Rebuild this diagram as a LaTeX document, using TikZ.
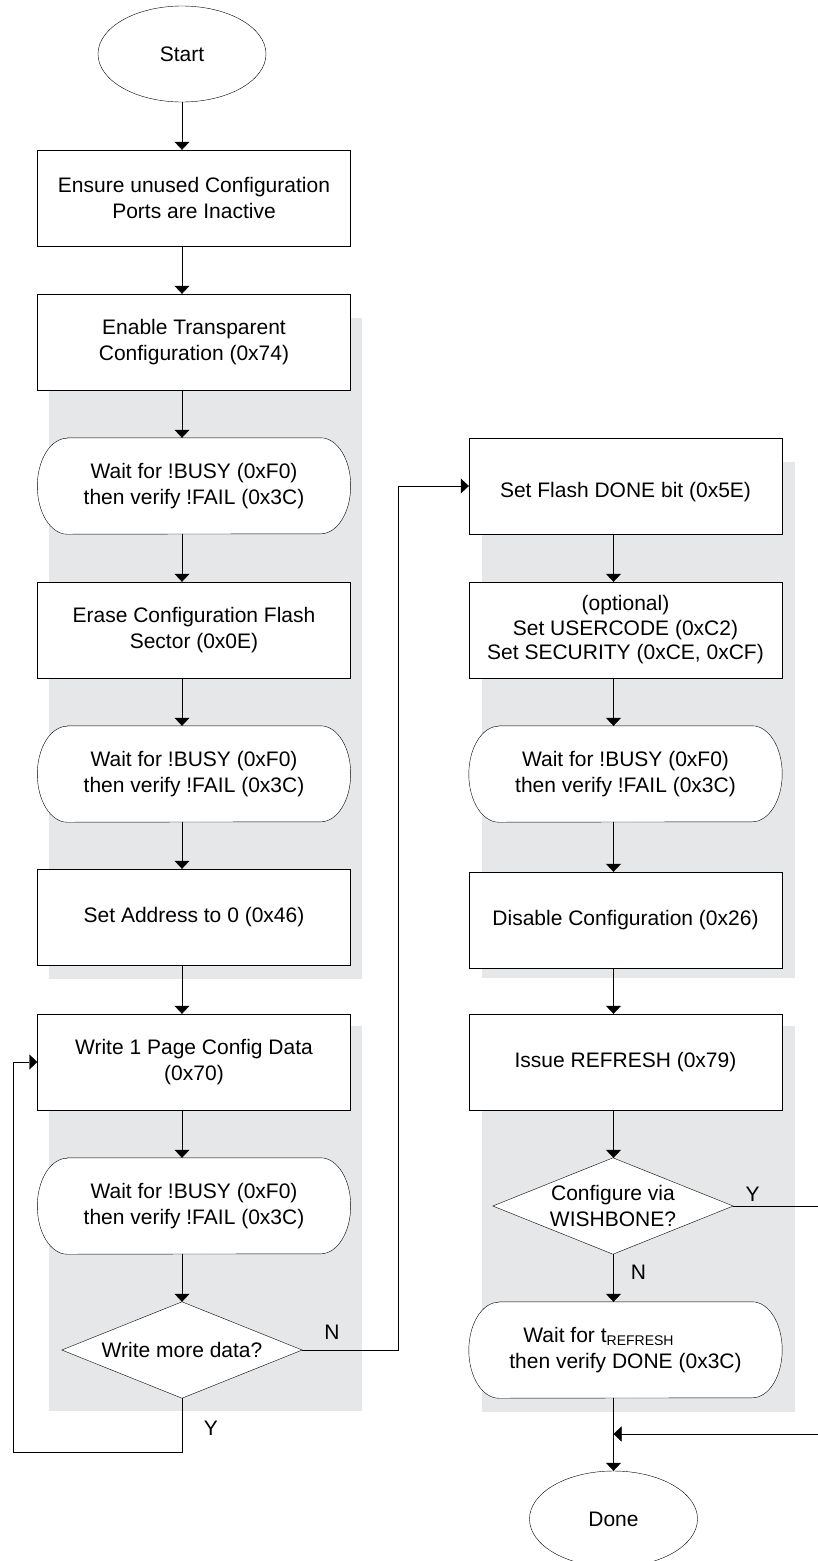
\documentclass[tikz,border=0pt]{standalone}
\usepackage{fontspec}
\setmainfont{Liberation Sans}
\usetikzlibrary{arrows.meta,shapes.geometric}
\definecolor{greyfill}{RGB}{230,231,233}
\pgfdeclarelayer{bg}
\pgfdeclarelayer{mid}
\pgfsetlayers{bg,mid,main}
\newcommand\termline[1]{%
  \draw[fill=white] ([xshift=30pt]#1.north west) -- ([xshift=-30pt]#1.north east)
    arc[start angle=90,end angle=-90,x radius=30pt,y radius=48pt]
    -- ([xshift=30pt]#1.south west)
    arc[start angle=270,end angle=90,x radius=30pt,y radius=48pt] -- cycle;}
\newcommand\decline[1]{%
  \draw[fill=white] (#1.north) -- (#1.east) -- (#1.south) -- (#1.west) -- cycle;}
\begin{document}
\begin{tikzpicture}[x=1pt,y=-1pt,
  font=\fontsize{21}{26}\selectfont,
  line width=1.4pt,
  arr/.style={-{Triangle[length=8pt,width=15pt]}},
  proc/.style={draw, rectangle, minimum width=313pt, minimum height=96pt, align=center, inner sep=0pt, fill=white},
  term/.style={rectangle, minimum width=313pt, minimum height=96pt, align=center, inner sep=0pt},
  dec/.style={rectangle, minimum width=240pt, minimum height=96pt, align=center, inner sep=0pt},
  oval/.style={draw, ellipse, minimum width=168pt, minimum height=96pt, inner sep=0pt, fill=white},
  lab/.style={inner sep=0pt}
]
\useasboundingbox (0,0) rectangle (818,1561);
\begin{pgfonlayer}{bg}
  \fill[greyfill] (49,318) rectangle (362,979);
  \fill[greyfill] (49,1026) rectangle (362,1411);
  \fill[greyfill] (482,462) rectangle (795,978);
  \fill[greyfill] (482,1026) rectangle (795,1412);
\end{pgfonlayer}

\coordinate (sL) at (182,0);
\coordinate (sR) at (613.5,0);

% left column
\node[oval] (start) at (182,54) {Start};
\node[proc] (b1) at (194,198) {Ensure unused Configuration\\Ports are Inactive};
\node[proc] (b2) at (194,342) {Enable Transparent\\Configuration (0x74)};
\node[term] (t3) at (194,486) {Wait for !BUSY (0xF0)\\then verify !FAIL (0x3C)};
\node[proc] (b4) at (194,630) {Erase Configuration Flash\\Sector (0x0E)};
\node[term] (t5) at (194,774) {Wait for !BUSY (0xF0)\\then verify !FAIL (0x3C)};
\node[proc] (b6) at (194,917) {Set Address to 0 (0x46)};
\node[proc] (b7) at (194,1062) {Write 1 Page Config Data\\(0x70)};
\node[term] (t8) at (194,1206) {Wait for !BUSY (0xF0)\\then verify !FAIL (0x3C)};
\node[dec] (d1) at (182,1350) {Write more data?};

% right column
\node[proc,label={[yshift=-6pt]center:Set Flash DONE bit (0x5E)}] (r1) at (625.5,486) {};
\node[proc,font=\fontsize{21}{24.5}\selectfont] (r2) at (625.5,630) {(optional)\\Set USERCODE (0xC2)\\Set SECURITY (0xCE, 0xCF)};
\node[term] (r3) at (625.5,774) {Wait for !BUSY (0xF0)\\then verify !FAIL (0x3C)};
\node[proc] (r4) at (625.5,920) {Disable Configuration (0x26)};
\node[proc] (r5) at (625.5,1062) {Issue REFRESH (0x79)};
\node[dec] (d2) at (613,1206) {Configure via\\WISHBONE?};
\node[term] (r6) at (625.5,1350) {Wait for t\raisebox{-3pt}{\fontsize{14}{14}\selectfont REFRESH}\hspace*{54pt}\\then verify DONE (0x3C)};
\node[oval] (done) at (613.5,1519) {Done};

\begin{pgfonlayer}{mid}
  \termline{t3}\termline{t5}\termline{t8}\termline{r3}\termline{r6}
  \decline{d1}\decline{d2}
\end{pgfonlayer}

% labels
\node[lab] (nL) at (332,1332) {N};
\node[lab] (yL) at (211,1428) {Y};
\node[lab] (yR) at (752.5,1194) {Y};
\node[lab] (nR) at (638.5,1272) {N};

% connectors
\draw[arr] (start.south) -- (b1.north -| sL);
\foreach \a/\b in {b1/b2,b2/t3,t3/b4,b4/t5,t5/b6,b6/b7,b7/t8,t8/d1}
  \draw[arr] (\a.south -| sL) -- (\b.north -| sL);
\foreach \a/\b in {r1/r2,r2/r3,r3/r4,r4/r5,r5/d2,d2/r6,r6/done}
  \draw[arr] (\a.south -| sR) -- (\b.north -| sR);

\coordinate (loopc) at (13,1452);
\draw[arr] (d1.south) |- (loopc) |- (b7.west);

\coordinate (nc) at (398,0);
\draw[arr] (d1.east) -| (nc |- r1.west) -- (r1.west);

\coordinate (yc) at (819.5,1434);
\draw[arr] (d2.east) -| (yc) -- (sR |- yc);
\end{tikzpicture}
\end{document}
